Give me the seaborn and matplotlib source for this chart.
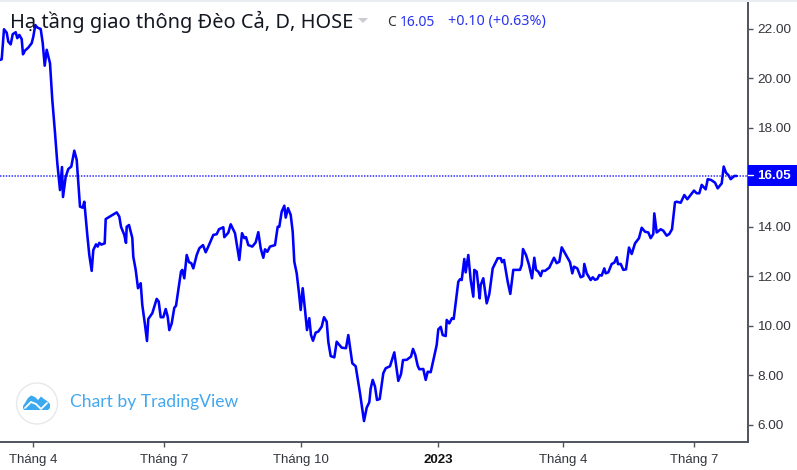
import matplotlib
matplotlib.use("Agg")
import matplotlib.pyplot as plt
import matplotlib.patches as mp
from matplotlib.lines import Line2D
import pandas as pd
import seaborn as sns

# Time coordinate along the chart (session position, same unit as the tick positions)
time_pos = [0,1.7,4,6.7,8.3,10.7,12.7,15.7,17.3,19.3,21.7,23,25,28.3,31.7,33.3,35.3,37.3,40.7,42.7,44.7,46.7,50,52.3,55,57.3,60,62,63,65.7,68.3,71.3,74.3,76.7,80,82.7,84.3,87.3,89.3,91.7,93.3,96,97.7,99.3,101.3,104.7,105.7,116.7,119.3,121,124.3,126,126.7,129,132.3,133.3,135.7,138,140.7,142.3,145,147,148.3,152.3,156.7,158.7,160.7,163.3,165.7,167.7,169.3,171.7,174.3,176,181,182.3,184.3,186.7,189,191.3,193.3,196.7,199.3,203,205.7,208.3,213.3,216.7,219,223.3,224.3,228.3,230.7,235,239.3,242,244.3,246,248.3,252.3,255.7,258.3,260.7,263.3,265,267.3,270,275,277.7,279.3,281.7,284.3,285.7,288,290.7,292.7,294.3,296.7,299,300.7,302.7,304.7,307,309.3,311,313,315.7,318.3,321.7,324,326.7,328.3,330.7,334.3,336.7,341.7,346,348.3,352.3,355.7,360,364,366.7,369.3,370.7,372.7,375,377,379.7,383.3,385.7,390,394.3,398.3,401,403,406.7,411,413,415.3,417.7,419.3,423.3,425.7,427.7,430.7,436.7,438.3,440.7,442.7,445.7,446.7,449.3,452,453.7,458.3,460,461.7,464.3,465.7,468.3,470.7,473.3,474.3,476.7,479.7,480.7,483.3,486.7,489.3,492.7,497.7,500.7,502,504,507.7,510.3,513.3,520,521.7,523,526,529,532,534.3,536,538.3,540.7,542.3,545,549.3,554,556.7,559.3,561.7,565,570,572.3,574,577.3,580.7,583.3,584.3,586.7,590.7,592.7,595,597.3,599.3,601.7,604.3,605.7,608.3,611.7,614.3,616.7,618,620.7,623.3,626,629,631.7,635,639,641.7,645,648.3,650.7,653.3,654.3,656.7,660.7,663.3,666.7,669.3,672,675,676.7,680.7,684.3,687.3,694,696.7,699.3,701.7,705.7,707.7,711,715,717.7,721.7,723.7,726,728.3,730.7,734.3,736.7]
close_price = [20.73,20.76,21.97,21.83,21.47,21.36,21.77,21.85,21.61,21.74,21.57,20.96,21.11,21.23,21.41,21.67,22.14,22.04,21.98,21.42,20.50,21.14,20.60,19.12,17.79,16.57,15.48,16.41,15.20,16.02,16.33,16.43,17.07,16.70,14.81,14.77,15.01,13.67,12.86,12.22,13.06,13.29,13.20,13.35,13.28,13.33,14.31,14.58,14.41,14.00,13.67,13.35,14.00,14.07,13.55,12.79,12.26,11.52,11.72,10.84,10.04,9.39,10.28,10.51,11.09,10.98,10.35,10.35,10.68,10.37,9.83,10.10,10.73,10.81,12.19,12.26,11.92,12.86,12.57,12.53,12.32,12.86,13.13,13.26,12.97,13.20,13.67,13.70,13.90,13.98,13.58,13.76,14.10,13.74,12.66,13.74,13.54,13.58,13.26,13.20,13.37,13.78,13.13,12.75,13.09,12.99,13.20,13.26,14.00,14.00,14.61,14.85,14.37,14.75,14.48,13.80,12.59,12.12,11.32,10.64,11.52,10.77,9.83,10.31,9.63,9.40,9.73,9.77,9.97,10.35,10.17,9.36,8.78,8.73,9.36,9.12,9.10,9.63,8.49,8.37,7.28,6.16,6.70,6.92,7.48,7.82,7.55,7.01,7.05,8.09,8.29,8.37,8.93,7.78,8.05,8.62,8.63,8.76,9.07,8.83,8.39,8.25,8.26,7.82,8.15,8.13,9.23,9.86,9.96,9.63,9.59,10.24,10.10,10.31,10.28,11.78,11.88,11.85,12.70,12.16,12.86,11.85,11.18,12.26,12.19,11.11,11.65,11.92,10.91,11.28,12.32,12.73,12.73,12.57,12.66,11.78,11.29,12.26,12.26,12.46,13.10,12.86,12.46,11.92,12.75,12.26,12.19,12.01,12.22,12.22,12.35,12.75,12.53,12.59,13.17,12.93,12.57,12.12,12.39,12.32,11.96,12.01,12.50,12.12,11.85,11.96,11.86,11.89,12.05,12.03,12.32,12.12,12.16,12.50,12.55,12.77,12.49,12.50,12.26,12.28,13.16,12.90,13.33,13.54,13.96,13.80,13.77,13.54,13.71,14.54,13.77,13.90,13.84,13.64,13.71,13.90,14.99,15.01,14.97,15.28,15.11,15.46,15.35,15.35,15.69,15.51,15.92,15.89,15.78,15.55,15.75,16.43,16.18,16.09,15.92,16.05,16.05]
month_ticks = [33,164,300.6,438,563,694]
month_labels = ["Tháng 4","Tháng 7","Tháng 10","2023","Tháng 4","Tháng 7"]
price_ticks = [6,8,10,12,14,18,20,22]
last_price = 16.05
title_text = "Hạ tầng giao thông Đèo Cả, D, HOSE"
quote_c = "C"
quote_vals = "16.05"
quote_chg = "+0.10 (+0.63%)"

W, H = 797, 470
BLUE = "#0000ff"
sns.set_style("white")
plt.rcParams["font.family"] = ["Liberation Sans", "DejaVu Sans"]
fig = plt.figure(figsize=(W/100, H/100), dpi=100, facecolor="white")
fx = lambda x: x/W
fy = lambda y: 1 - y/H
ax = fig.add_axes([0, fy(441.5), 748/W, (441.5-2)/H])

df = pd.DataFrame({"t": time_pos, "close": close_price})
sns.lineplot(data=df, x="t", y="close", ax=ax, color=BLUE, lw=1.85, sort=False,
             estimator=None, errorbar=None, legend=False, clip_on=True)
ax.axhline(last_price, color="#4a4aff", lw=1.3, ls=(0, (0.8, 0.8)), zorder=1)

ax.set_xlim(0, 748)
ax.set_ylim(5.334, 23.07)
ax.set_xlabel(""); ax.set_ylabel("")
ax.yaxis.tick_right()
ax.set_yticks(price_ticks, [f"{p:.2f}" for p in price_ticks], fontsize=9.7, color="#33353c")
ax.set_xticks(month_ticks, month_labels, fontsize=9.5, color="#33353c")
ax.get_xticklabels()[3].set_fontweight("bold")
ax.get_xticklabels()[3].set_color("#111111")
ax.tick_params(axis="both", length=3.5, width=1, color="#50535e", pad=3, bottom=True, right=True)
ax.tick_params(axis="x", pad=5.5)
for s in ["top", "left"]:
    ax.spines[s].set_visible(False)
for s in ["right", "bottom"]:
    ax.spines[s].set_visible(True)
    ax.spines[s].set_color("#50535e")
    ax.spines[s].set_linewidth(1.4)
ax.set_facecolor("white")

# top strip
fig.add_artist(mp.Rectangle((0, fy(2)), 1, 2/H, transform=fig.transFigure, fc="#e9ecf0", ec="none"))

# legend header
fig.text(fx(10), fy(22), title_text, fontsize=14.4, family=["Noto Sans", "DejaVu Sans"], color="#131722", va="center")
fig.add_artist(mp.Polygon([(fx(358), fy(18)), (fx(368), fy(18)), (fx(363), fy(23))],
                          transform=fig.transFigure, fc="#c9cbd0", ec="none"))
fig.text(fx(387), fy(22), quote_c, fontsize=10, family="Noto Sans", color="#333333", va="center")
fig.text(fx(400), fy(22), quote_vals, fontsize=10, family="Noto Sans", color="#2a33f0", va="center")
fig.text(fx(448), fy(22), quote_chg, fontsize=10.3, family="Noto Sans", color="#2a33f0", va="center")

# last price tag
fig.add_artist(mp.Rectangle((fx(748), fy(186)), 49/W, 21/H, transform=fig.transFigure, fc=BLUE, ec="none"))
fig.add_artist(Line2D([fx(748), fx(753)], [fy(175.3)]*2, transform=fig.transFigure, color="white", lw=1))
fig.text(fx(757), fy(175.5), f"{last_price:.2f}", fontsize=9.7, fontweight="bold", color="white", va="center")

# watermark
fig.add_artist(mp.Ellipse((fx(37), fy(403.5)), 41/W, 41/H, transform=fig.transFigure, fc="white", ec="#e6e8ea", lw=1))
cloud = [(23,406),(25,403),(28,398),(31,395.5),(35,397),(38,400),(41,396.5),(44,399),(47,401),(50,404),(50,408),(48,410),(24,410),(23,408)]
fig.add_artist(mp.Polygon([(fx(a), fy(b)) for a, b in cloud], transform=fig.transFigure, fc="#3ba9f0", ec="none", joinstyle="round"))
fig.add_artist(Line2D([fx(a) for a in (25,31,36,41,47)], [fy(b) for b in (408,402,404,409,403)],
                      transform=fig.transFigure, color="white", lw=1.3))
fig.text(fx(70), fy(402), "Chart by TradingView", fontsize=12.6, family="Lato", color="#42a8ef", va="center")

fig.savefig("out.png", dpi=100, facecolor="white")
